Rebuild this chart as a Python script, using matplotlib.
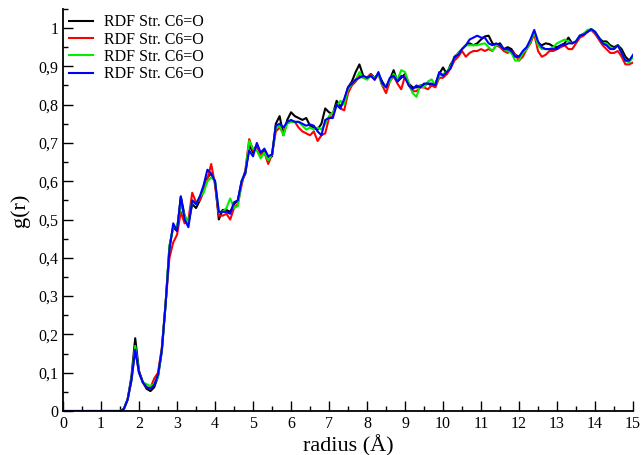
import numpy as np
import matplotlib
matplotlib.use("Agg")
import matplotlib.pyplot as plt
from matplotlib.ticker import MultipleLocator, FuncFormatter

# radial grid, 0.1 A spacing
radius = np.round(np.arange(0, 15.01, 0.1), 2)

g_black = [
    0, 0, 0, 0, 0, 0, 0, 0, 0, 0,
    0, 0, 0, 0, 0, 0, 0.005, 0.03, 0.09, 0.19,
    0.105, 0.075, 0.058, 0.052, 0.062, 0.09, 0.155, 0.28, 0.43, 0.48,
    0.47, 0.56, 0.51, 0.49, 0.54, 0.53, 0.55, 0.575, 0.61, 0.62,
    0.60, 0.50, 0.525, 0.525, 0.52, 0.54, 0.55, 0.60, 0.62, 0.695,
    0.675, 0.695, 0.67, 0.68, 0.66, 0.665, 0.75, 0.77, 0.72, 0.76,
    0.78, 0.77, 0.765, 0.76, 0.765, 0.745, 0.74, 0.735, 0.75, 0.79,
    0.78, 0.775, 0.81, 0.795, 0.81, 0.845, 0.86, 0.885, 0.905, 0.875,
    0.87, 0.88, 0.87, 0.88, 0.86, 0.845, 0.865, 0.89, 0.86, 0.87,
    0.88, 0.855, 0.845, 0.845, 0.85, 0.85, 0.855, 0.85, 0.855, 0.88,
    0.897, 0.88, 0.905, 0.92, 0.935, 0.945, 0.955, 0.96, 0.955, 0.96,
    0.97, 0.978, 0.98, 0.96, 0.955, 0.96, 0.945, 0.95, 0.945, 0.93,
    0.925, 0.935, 0.945, 0.965, 0.99, 0.96, 0.955, 0.96, 0.958, 0.952,
    0.95, 0.955, 0.96, 0.975, 0.96, 0.965, 0.98, 0.985, 0.99, 0.997,
    0.99, 0.975, 0.965, 0.965, 0.955, 0.95, 0.955, 0.945, 0.925, 0.915,
    0.925,
]

g_red = [
    0, 0, 0, 0, 0, 0, 0, 0, 0, 0,
    0, 0, 0, 0, 0, 0, 0.005, 0.03, 0.08, 0.16,
    0.10, 0.075, 0.062, 0.06, 0.085, 0.10, 0.165, 0.28, 0.40, 0.44,
    0.46, 0.52, 0.49, 0.50, 0.57, 0.545, 0.55, 0.575, 0.605, 0.645,
    0.59, 0.51, 0.51, 0.515, 0.50, 0.53, 0.54, 0.59, 0.63, 0.71,
    0.68, 0.69, 0.67, 0.675, 0.645, 0.67, 0.73, 0.74, 0.725, 0.755,
    0.755, 0.755, 0.74, 0.73, 0.725, 0.72, 0.73, 0.705, 0.72, 0.725,
    0.765, 0.77, 0.80, 0.79, 0.785, 0.83, 0.85, 0.86, 0.875, 0.87,
    0.87, 0.88, 0.865, 0.88, 0.85, 0.83, 0.86, 0.875, 0.855, 0.84,
    0.875, 0.85, 0.835, 0.835, 0.845, 0.845, 0.84, 0.85, 0.845, 0.87,
    0.87, 0.88, 0.895, 0.915, 0.925, 0.94, 0.925, 0.935, 0.94, 0.94,
    0.945, 0.94, 0.945, 0.94, 0.955, 0.95, 0.94, 0.935, 0.94, 0.93,
    0.915, 0.925, 0.945, 0.96, 0.985, 0.94, 0.925, 0.93, 0.94, 0.94,
    0.945, 0.95, 0.955, 0.945, 0.945, 0.96, 0.975, 0.98, 0.99, 0.995,
    0.985, 0.97, 0.955, 0.945, 0.935, 0.935, 0.94, 0.925, 0.905, 0.905,
    0.91,
]

g_green = [
    0, 0, 0, 0, 0, 0, 0, 0, 0, 0,
    0, 0, 0, 0, 0, 0, 0.005, 0.03, 0.08, 0.17,
    0.10, 0.075, 0.07, 0.065, 0.07, 0.09, 0.16, 0.28, 0.43, 0.48,
    0.48, 0.54, 0.51, 0.49, 0.55, 0.54, 0.56, 0.57, 0.60, 0.61,
    0.60, 0.52, 0.52, 0.53, 0.555, 0.53, 0.535, 0.60, 0.625, 0.705,
    0.685, 0.68, 0.66, 0.675, 0.655, 0.67, 0.74, 0.745, 0.72, 0.75,
    0.755, 0.755, 0.755, 0.745, 0.735, 0.74, 0.735, 0.74, 0.735, 0.75,
    0.77, 0.78, 0.795, 0.81, 0.80, 0.84, 0.855, 0.865, 0.885, 0.87,
    0.865, 0.875, 0.87, 0.88, 0.85, 0.85, 0.86, 0.88, 0.865, 0.89,
    0.885, 0.855, 0.83, 0.82, 0.85, 0.845, 0.86, 0.866, 0.85, 0.875,
    0.88, 0.885, 0.90, 0.925, 0.935, 0.945, 0.955, 0.955, 0.955, 0.955,
    0.958, 0.96, 0.95, 0.94, 0.955, 0.955, 0.945, 0.94, 0.935, 0.915,
    0.915, 0.935, 0.945, 0.965, 0.99, 0.955, 0.945, 0.945, 0.945, 0.95,
    0.96, 0.965, 0.97, 0.965, 0.96, 0.965, 0.98, 0.985, 0.995, 0.997,
    0.99, 0.975, 0.96, 0.96, 0.95, 0.945, 0.955, 0.935, 0.915, 0.91,
    0.925,
]

g_blue = [
    0, 0, 0, 0, 0, 0, 0, 0, 0, 0,
    0, 0, 0, 0, 0, 0, 0.005, 0.03, 0.08, 0.16,
    0.10, 0.075, 0.062, 0.058, 0.068, 0.095, 0.16, 0.28, 0.42, 0.49,
    0.47, 0.56, 0.50, 0.48, 0.55, 0.54, 0.56, 0.59, 0.63, 0.62,
    0.60, 0.52, 0.52, 0.52, 0.515, 0.545, 0.55, 0.60, 0.625, 0.68,
    0.665, 0.70, 0.675, 0.685, 0.665, 0.67, 0.745, 0.75, 0.74, 0.755,
    0.76, 0.755, 0.755, 0.75, 0.745, 0.748, 0.745, 0.73, 0.72, 0.76,
    0.765, 0.765, 0.80, 0.79, 0.815, 0.845, 0.855, 0.865, 0.87, 0.875,
    0.87, 0.875, 0.865, 0.885, 0.855, 0.845, 0.87, 0.875, 0.86, 0.875,
    0.87, 0.85, 0.84, 0.85, 0.845, 0.855, 0.855, 0.855, 0.85, 0.885,
    0.875, 0.885, 0.895, 0.925, 0.93, 0.945, 0.955, 0.97, 0.975, 0.98,
    0.975, 0.975, 0.96, 0.955, 0.96, 0.955, 0.945, 0.945, 0.94, 0.925,
    0.925, 0.94, 0.95, 0.97, 0.995, 0.965, 0.95, 0.945, 0.945, 0.945,
    0.945, 0.955, 0.955, 0.96, 0.96, 0.965, 0.98, 0.983, 0.99, 0.997,
    0.99, 0.975, 0.96, 0.955, 0.945, 0.945, 0.955, 0.935, 0.915, 0.915,
    0.93,
]

series_labels = ["RDF Str. C6=O"] * 4
colors = ["black", "red", "#00ee00", "blue"]

plt.rcParams["font.family"] = ["Liberation Serif", "DejaVu Serif"]

fig = plt.figure(figsize=(6.43, 4.55), dpi=100)
ax = fig.add_axes([0.098, 0.0967, 0.8865, 0.8838])

for vals, col, lbl in zip([g_black, g_red, g_green, g_blue], colors, series_labels):
    ax.plot(radius, vals, color=col, lw=1.5, label=lbl)

ax.set_xlim(0, 15)
ax.set_ylim(0, 1.05)
ax.xaxis.set_major_locator(MultipleLocator(1))
ax.xaxis.set_minor_locator(MultipleLocator(0.5))
ax.yaxis.set_major_locator(MultipleLocator(0.1))
ax.yaxis.set_minor_locator(MultipleLocator(0.05))

# decimal comma on the y axis
ax.yaxis.set_major_formatter(FuncFormatter(lambda v, p: ("%g" % round(v, 2)).replace(".", ",")))

ax.tick_params(which="both", direction="in", labelsize=11.5, width=1)
ax.tick_params(which="major", length=7)
ax.tick_params(which="minor", length=3.5)

for s in ["top", "right"]:
    ax.spines[s].set_visible(False)
for s in ["left", "bottom"]:
    ax.spines[s].set_linewidth(1.3)

ax.set_xlabel("radius (Å)", fontsize=16, labelpad=2)
ax.set_ylabel("g(r)", fontsize=16, labelpad=6)

ax.legend(loc="upper left", frameon=False, fontsize=11.5, handlelength=1.5,
          handletextpad=0.7, labelspacing=0.08, borderpad=0.35,
          borderaxespad=0.0, bbox_to_anchor=(0.0, 1.0))

fig.savefig("out.png", dpi=100)
